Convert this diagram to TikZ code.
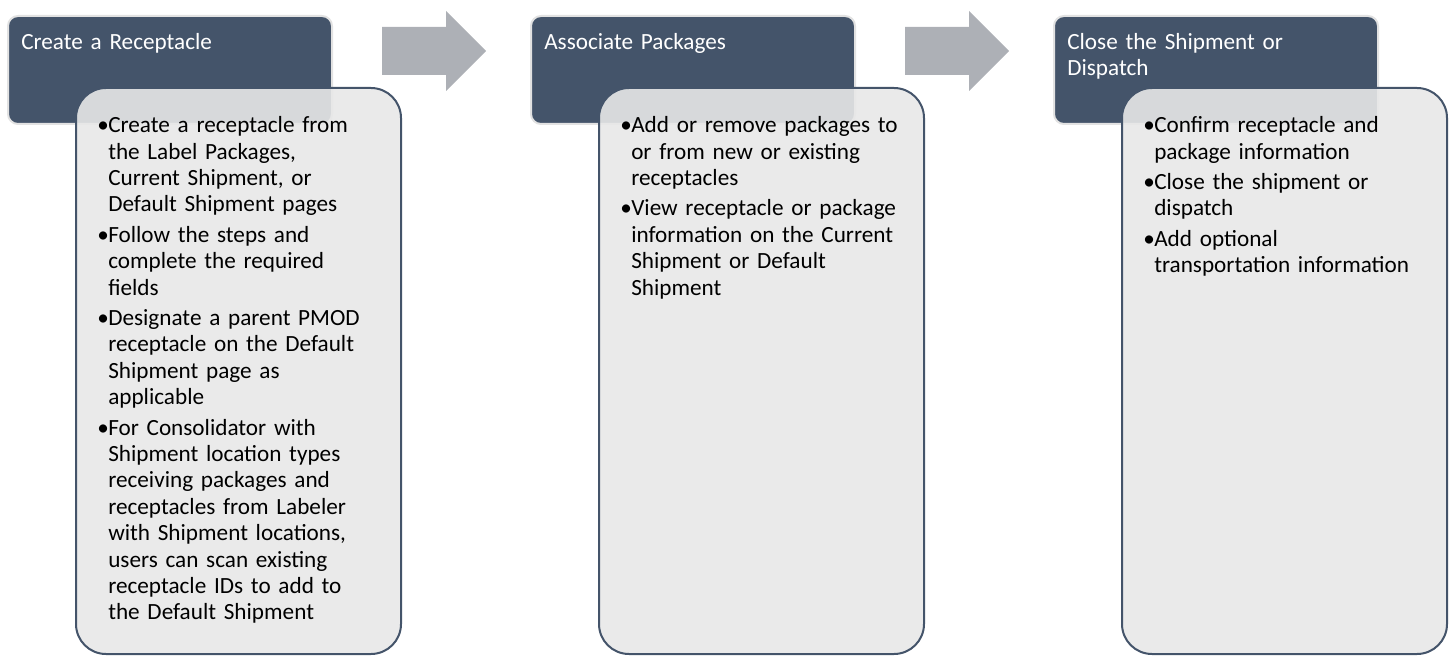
\documentclass[tikz,border=0pt]{standalone}
\usepackage{fontspec}
\setmainfont{Carlito}
\usepackage{tikz}
\usetikzlibrary{positioning, calc}
\definecolor{stepdark}{RGB}{68,84,106}
\definecolor{steplight}{RGB}{232,232,232}
\definecolor{flowgray}{RGB}{173,176,182}
\definecolor{halogray}{RGB}{226,226,226}
\newlength{\bulletgap}
\setlength{\bulletgap}{8.25pt}
\newcommand{\pitem}{\hangindent=\bulletgap\hangafter=1\noindent
  \makebox[\bulletgap][l]{\textbullet}\strut}
\newcommand{\pbreak}{\unskip\nobreak\hfil\break}
\tikzset{
  headbox/.style={rectangle, rounded corners=7.5pt, minimum width=243pt,
    minimum height=81pt, inner sep=0pt, fill=stepdark, draw=halogray,
    line width=1.5pt, anchor=north west},
  bodybox/.style={rectangle, rounded corners=22.5pt, minimum width=243.75pt,
    minimum height=424.5pt, inner sep=0pt, fill=steplight, fill opacity=0.9,
    draw=stepdark, line width=1.5pt, anchor=north west},
  headtext/.style={anchor=north west, inner sep=0pt, text=white,
    text width=225pt, align=left, font=\fontsize{17.4}{19.8}\selectfont},
  bodytext/.style={anchor=north west, inner sep=0pt, text=black,
    text width=225pt, align=left,
    font=\fontsize{17.4}{19.8}\selectfont\setlength{\parskip}{3pt}},
  flowarrow/.style={fill=flowgray},
}
\begin{document}
\begin{tikzpicture}[x=0.75pt, y=-0.75pt]
  \useasboundingbox (0,0) rectangle (1450,656);

  %% Step 1: receptacle
  \node[headbox] (head1) at (7,15) {};
  \node[headtext] (title1) at ([shift={(14,15.5)}]head1.north west)
    {\strut Create a Receptacle};
  \node[bodybox] (body1) at ([shift={(68,72)}]head1.north west) {};
  \node[bodytext] (list1) at ([shift={(22,27)}]body1.north west) {%
    \pitem Create a receptacle from\pbreak the Label Packages,\pbreak
      Current Shipment, or\pbreak Default Shipment pages\par
    \pitem Follow the steps and\pbreak complete the required\pbreak fields\par
    \pitem Designate a parent PMOD\pbreak receptacle on the Default\pbreak
      Shipment page as\pbreak applicable\par
    \pitem For Consolidator with\pbreak Shipment location types\pbreak
      receiving packages and\pbreak receptacles from Labeler\pbreak
      with Shipment locations,\pbreak users can scan existing\pbreak
      receptacle IDs to add to\pbreak the Default Shipment\par};

  \fill[flowarrow] (382,27) -- (446,27) -- (446,11) -- (486,51)
    -- (446,91) -- (446,75) -- (382,75) -- cycle;

  %% Step 2: packages
  \node[headbox] (head2) at (530,15) {};
  \node[headtext] (title2) at ([shift={(14,15.5)}]head2.north west)
    {\strut Associate Packages};
  \node[bodybox] (body2) at ([shift={(68,72)}]head2.north west) {};
  \node[bodytext] (list2) at ([shift={(22,27)}]body2.north west) {%
    \pitem Add or remove packages to\pbreak or from new or existing\pbreak
      receptacles\par
    \pitem View receptacle or package\pbreak information on the Current\pbreak
      Shipment or Default\pbreak Shipment\par};

  \fill[flowarrow] (905,27) -- (969,27) -- (969,11) -- (1009,51)
    -- (969,91) -- (969,75) -- (905,75) -- cycle;

  %% Step 3: close out
  \node[headbox] (head3) at (1053,15) {};
  \node[headtext] (title3) at ([shift={(14,15.5)}]head3.north west)
    {\strut Close the Shipment or\\Dispatch};
  \node[bodybox] (body3) at ([shift={(68,72)}]head3.north west) {};
  \node[bodytext] (list3) at ([shift={(22,27)}]body3.north west) {%
    \pitem Confirm receptacle and\pbreak package information\par
    \pitem Close the shipment or\pbreak dispatch\par
    \pitem Add optional\pbreak transportation information\par};

\end{tikzpicture}
\end{document}
